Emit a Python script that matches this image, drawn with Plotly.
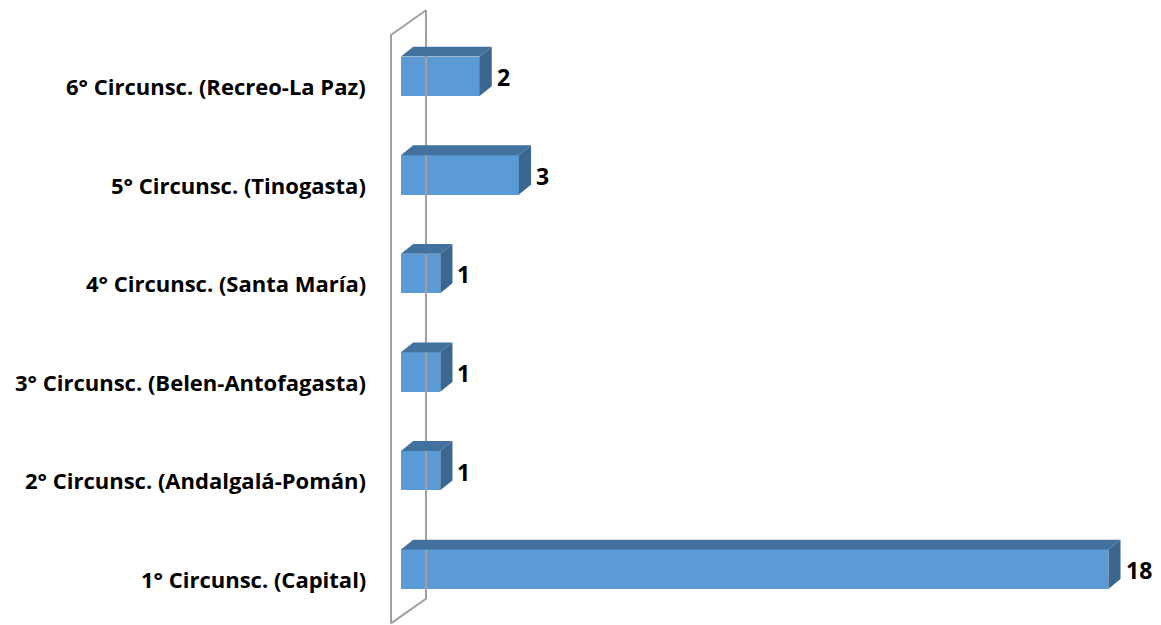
import plotly.graph_objects as go

# Data (bottom to top)
categories = [
    "1° Circunsc. (Capital)",
    "2° Circunsc. (Andalgalá-Pomán)",
    "3° Circunsc. (Belen-Antofagasta)",
    "4° Circunsc. (Santa María)",
    "5° Circunsc. (Tinogasta)",
    "6° Circunsc. (Recreo-La Paz)",
]
values = [18, 1, 1, 1, 3, 2]

FRONT = "#5b9bd5"
TOP = "#41719c"
SIDE = "#3b6690"
WALL = "#a0a0a0"

bar_w = 0.4      # bar thickness in category units
ddx = 0.31       # 3D depth offset, x units
ddy = 0.10       # 3D depth offset, category units

pos = list(range(len(categories)))

fig = go.Figure()

# side wall (the category axis plane)
wall_dx = 0.89
wall_dy = 0.25
wx0 = -0.254
wy0, wy1 = -0.55, 5.42
fig.add_trace(go.Scatter(
    x=[wx0, wx0, wx0 + wall_dx, wx0 + wall_dx, wx0],
    y=[wy0, wy1, wy1 + wall_dy, wy0 + wall_dy, wy0],
    mode="lines", line=dict(color=WALL, width=2),
    hoverinfo="skip", showlegend=False, cliponaxis=False,
))

# front faces
fig.add_trace(go.Bar(
    x=values, y=pos, orientation="h", width=bar_w,
    marker=dict(color=FRONT, line=dict(width=0)),
    showlegend=False,
))

# top and side faces
for p, v in zip(pos, values):
    t = p + bar_w / 2
    b = p - bar_w / 2
    fig.add_trace(go.Scatter(
        x=[0, v, v + ddx, ddx, 0], y=[t, t, t + ddy, t + ddy, t],
        fill="toself", fillcolor=TOP, mode="lines", line=dict(width=0, color=TOP),
        hoverinfo="skip", showlegend=False,
    ))
    fig.add_trace(go.Scatter(
        x=[v, v, v + ddx, v + ddx, v], y=[b, t, t + ddy, b + ddy, b],
        fill="toself", fillcolor=SIDE, mode="lines", line=dict(width=0, color=SIDE),
        hoverinfo="skip", showlegend=False,
    ))
    fig.add_annotation(
        x=v + ddx, y=p - 0.01, text=f"<b>{v}</b>", showarrow=False,
        xanchor="left", xshift=3, font=dict(size=23, color="black"),
    )

# category labels
for p, c in zip(pos, categories):
    fig.add_annotation(
        xref="paper", x=0, y=p - 0.1, text=f"<b>{c}</b>", showarrow=False,
        xanchor="right", xshift=-12, font=dict(size=22, color="black"),
    )

# page body has an 8px margin, so the figure is 8px smaller and shifted
fig.update_layout(
    width=1153, height=617,
    margin=dict(l=372, r=0, t=0, b=0),
    paper_bgcolor="white", plot_bgcolor="white",
    font=dict(family="Open Sans, Carlito, Calibri, sans-serif"),
    xaxis=dict(range=[-0.534, 19.34], visible=False, fixedrange=True),
    yaxis=dict(range=[-0.566, 5.693], visible=False, fixedrange=True),
    bargap=0,
)

fig.write_html("out.html")
